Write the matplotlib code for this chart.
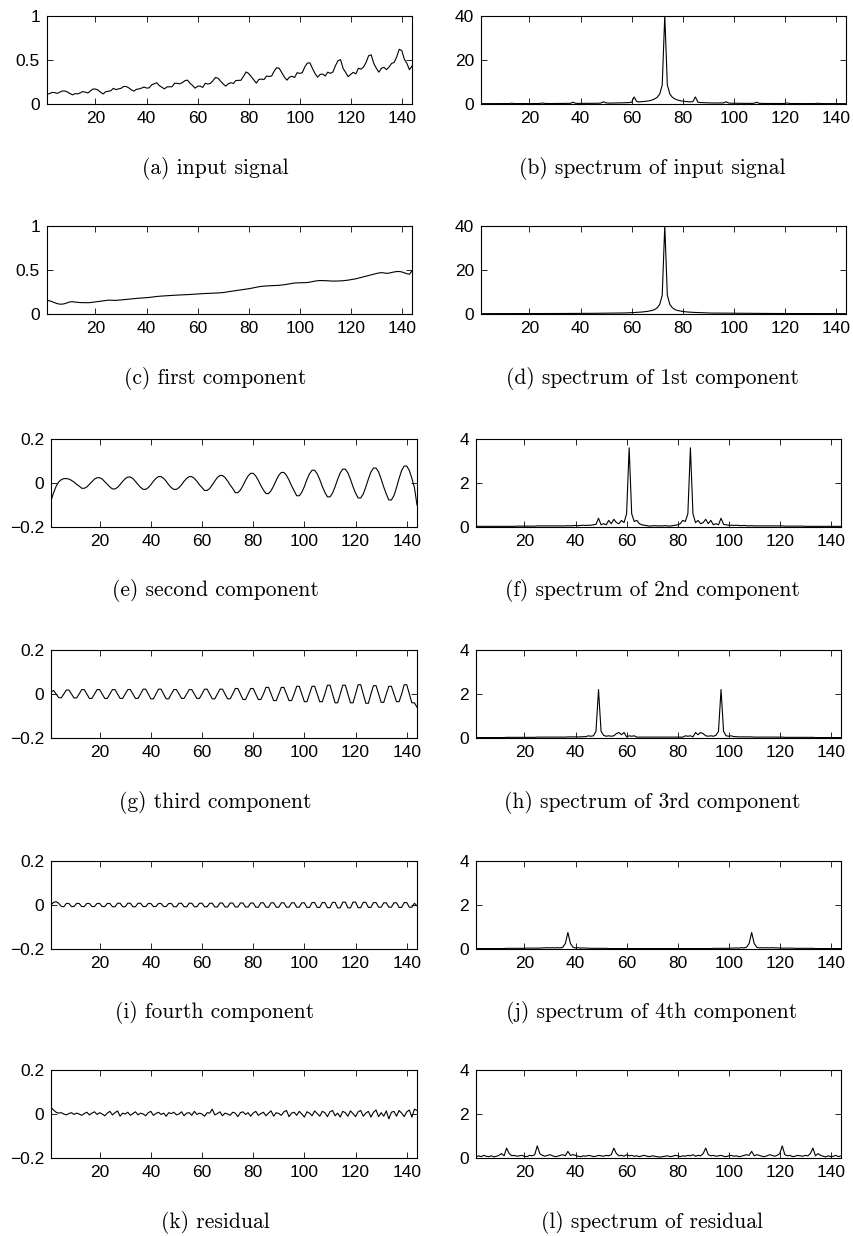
import matplotlib.pyplot as plt
import numpy as np

# figure size in pixels (dpi 100)
W, H = 854, 1236

steps = np.arange(1, 145)

# (a) input signal
input_signal = [
    0.112, 0.118, 0.132, 0.129, 0.121, 0.135, 0.148, 0.148, 0.136, 0.119, 0.104, 0.118,
    0.115, 0.126, 0.141, 0.135, 0.125, 0.149, 0.170, 0.170, 0.158, 0.133, 0.114, 0.140,
    0.145, 0.150, 0.178, 0.163, 0.172, 0.178, 0.199, 0.199, 0.184, 0.162, 0.146, 0.166,
    0.171, 0.180, 0.193, 0.181, 0.183, 0.218, 0.230, 0.242, 0.209, 0.191, 0.172, 0.194,
    0.196, 0.196, 0.236, 0.235, 0.229, 0.243, 0.264, 0.272, 0.237, 0.211, 0.180, 0.201,
    0.204, 0.188, 0.235, 0.227, 0.234, 0.264, 0.302, 0.293, 0.259, 0.229, 0.203, 0.229,
    0.242, 0.233, 0.267, 0.269, 0.270, 0.315, 0.364, 0.347, 0.312, 0.274, 0.237, 0.278,
    0.284, 0.277, 0.317, 0.313, 0.318, 0.374, 0.413, 0.405, 0.355, 0.306, 0.271, 0.306,
    0.315, 0.301, 0.356, 0.348, 0.355, 0.422, 0.465, 0.467, 0.404, 0.347, 0.305, 0.336,
    0.340, 0.318, 0.362, 0.348, 0.363, 0.435, 0.491, 0.505, 0.404, 0.359, 0.310, 0.337,
    0.360, 0.342, 0.406, 0.396, 0.420, 0.472, 0.548, 0.559, 0.463, 0.407, 0.362, 0.405,
    0.417, 0.391, 0.419, 0.461, 0.472, 0.535, 0.622, 0.606, 0.508, 0.461, 0.390, 0.432,
]

# (b) spectrum of input signal
spec_input = [
    0.17, 0.17, 0.17, 0.17, 0.17, 0.17, 0.17, 0.18, 0.18, 0.18, 0.18, 0.20,
    0.35, 0.20, 0.18, 0.18, 0.19, 0.19, 0.19, 0.19, 0.19, 0.20, 0.20, 0.22,
    0.45, 0.25, 0.22, 0.21, 0.22, 0.22, 0.22, 0.23, 0.23, 0.24, 0.25, 0.30,
    0.80, 0.35, 0.27, 0.27, 0.28, 0.28, 0.30, 0.30, 0.32, 0.33, 0.35, 0.45,
    1.00, 0.50, 0.40, 0.42, 0.45, 0.45, 0.50, 0.50, 0.55, 0.60, 0.65, 0.80,
    3.20, 1.10, 0.95, 1.05, 1.15, 1.30, 1.50, 1.80, 2.30, 3.00, 4.50, 8.60,
    40.36, 8.60, 4.50, 3.00, 2.30, 1.80, 1.50, 1.30, 1.15, 1.05, 0.95, 1.10,
    3.20, 0.80, 0.65, 0.60, 0.55, 0.50, 0.50, 0.45, 0.45, 0.42, 0.40, 0.50,
    1.00, 0.45, 0.35, 0.33, 0.32, 0.30, 0.30, 0.28, 0.28, 0.27, 0.27, 0.35,
    0.80, 0.30, 0.25, 0.24, 0.23, 0.23, 0.22, 0.22, 0.22, 0.21, 0.22, 0.25,
    0.45, 0.22, 0.20, 0.20, 0.19, 0.19, 0.19, 0.19, 0.19, 0.18, 0.18, 0.20,
    0.35, 0.20, 0.18, 0.18, 0.18, 0.18, 0.17, 0.17, 0.17, 0.17, 0.17, 0.17,
]

# (c) first component
comp1 = [
    0.155, 0.150, 0.140, 0.128, 0.118, 0.112, 0.112, 0.118, 0.128, 0.138, 0.140, 0.135,
    0.132, 0.130, 0.129, 0.128, 0.128, 0.130, 0.134, 0.138, 0.142, 0.146, 0.150, 0.154,
    0.157, 0.157, 0.155, 0.155, 0.157, 0.160, 0.163, 0.166, 0.169, 0.172, 0.175, 0.177,
    0.179, 0.181, 0.183, 0.185, 0.188, 0.192, 0.196, 0.199, 0.202, 0.204, 0.206, 0.208,
    0.210, 0.212, 0.213, 0.215, 0.216, 0.218, 0.219, 0.220, 0.222, 0.224, 0.226, 0.228,
    0.230, 0.232, 0.233, 0.234, 0.235, 0.236, 0.237, 0.239, 0.241, 0.244, 0.248, 0.252,
    0.257, 0.262, 0.266, 0.270, 0.274, 0.278, 0.282, 0.287, 0.292, 0.298, 0.304, 0.310,
    0.314, 0.317, 0.319, 0.321, 0.322, 0.323, 0.324, 0.326, 0.329, 0.333, 0.338, 0.344,
    0.349, 0.352, 0.354, 0.355, 0.355, 0.356, 0.358, 0.362, 0.368, 0.374, 0.378, 0.380,
    0.380, 0.379, 0.377, 0.375, 0.374, 0.374, 0.375, 0.376, 0.378, 0.381, 0.385, 0.390,
    0.395, 0.400, 0.407, 0.415, 0.423, 0.430, 0.437, 0.445, 0.452, 0.460, 0.466, 0.470,
    0.467, 0.462, 0.465, 0.472, 0.478, 0.482, 0.483, 0.478, 0.468, 0.458, 0.452, 0.490,
]

# (d) spectrum of 1st component
spec_comp1 = [
    0.17, 0.17, 0.17, 0.17, 0.17, 0.17, 0.17, 0.17, 0.18, 0.18, 0.18, 0.18,
    0.18, 0.18, 0.18, 0.19, 0.19, 0.19, 0.19, 0.19, 0.20, 0.20, 0.20, 0.20,
    0.20, 0.21, 0.21, 0.22, 0.22, 0.23, 0.23, 0.23, 0.24, 0.24, 0.25, 0.25,
    0.24, 0.26, 0.27, 0.27, 0.28, 0.28, 0.29, 0.30, 0.31, 0.32, 0.33, 0.34,
    0.35, 0.36, 0.37, 0.38, 0.40, 0.42, 0.43, 0.45, 0.47, 0.50, 0.55, 0.60,
    0.70, 0.75, 0.80, 0.90, 1.00, 1.15, 1.35, 1.60, 2.00, 2.80, 4.30, 8.50,
    40.20, 8.50, 4.30, 2.80, 2.00, 1.60, 1.35, 1.15, 1.00, 0.90, 0.80, 0.75,
    0.70, 0.60, 0.55, 0.50, 0.47, 0.45, 0.43, 0.42, 0.40, 0.38, 0.37, 0.36,
    0.35, 0.34, 0.33, 0.32, 0.31, 0.30, 0.29, 0.28, 0.28, 0.27, 0.27, 0.26,
    0.24, 0.25, 0.25, 0.24, 0.24, 0.23, 0.23, 0.23, 0.22, 0.22, 0.21, 0.21,
    0.20, 0.20, 0.20, 0.20, 0.20, 0.19, 0.19, 0.19, 0.19, 0.19, 0.18, 0.18,
    0.18, 0.18, 0.18, 0.18, 0.18, 0.17, 0.17, 0.17, 0.17, 0.17, 0.17, 0.17,
]

# (e) second component
comp2 = [
    -0.080, -0.045, -0.015, 0.005, 0.015, 0.020, 0.020, 0.018, 0.012, 0.004, -0.006, -0.014,
    -0.024, -0.024, -0.018, -0.006, 0.006, 0.018, 0.024, 0.024, 0.018, 0.006, -0.006, -0.018,
    -0.027, -0.027, -0.020, -0.007, 0.007, 0.020, 0.027, 0.027, 0.020, 0.007, -0.007, -0.020,
    -0.029, -0.029, -0.021, -0.008, 0.008, 0.021, 0.029, 0.029, 0.021, 0.008, -0.008, -0.021,
    -0.029, -0.029, -0.021, -0.008, 0.008, 0.021, 0.029, 0.029, 0.021, 0.008, -0.008, -0.021,
    -0.034, -0.034, -0.025, -0.009, 0.009, 0.025, 0.034, 0.034, 0.025, 0.009, -0.009, -0.025,
    -0.044, -0.044, -0.032, -0.012, 0.012, 0.032, 0.044, 0.044, 0.032, 0.012, -0.012, -0.032,
    -0.048, -0.048, -0.035, -0.013, 0.013, 0.035, 0.048, 0.048, 0.035, 0.013, -0.013, -0.035,
    -0.058, -0.058, -0.042, -0.016, 0.016, 0.042, 0.058, 0.058, 0.042, 0.016, -0.016, -0.042,
    -0.063, -0.063, -0.046, -0.017, 0.017, 0.046, 0.063, 0.063, 0.046, 0.017, -0.017, -0.046,
    -0.068, -0.068, -0.050, -0.018, 0.018, 0.050, 0.068, 0.068, 0.050, 0.018, -0.018, -0.050,
    -0.077, -0.077, -0.057, -0.021, 0.021, 0.057, 0.077, 0.077, 0.057, 0.021, -0.021, -0.100,
]

# (f) spectrum of 2nd component
spec_comp2 = [
    0.03, 0.03, 0.03, 0.03, 0.03, 0.03, 0.03, 0.03, 0.03, 0.03, 0.03, 0.03,
    0.03, 0.03, 0.03, 0.03, 0.04, 0.04, 0.04, 0.04, 0.04, 0.04, 0.04, 0.04,
    0.05, 0.05, 0.05, 0.05, 0.05, 0.05, 0.05, 0.05, 0.05, 0.05, 0.05, 0.05,
    0.06, 0.05, 0.06, 0.07, 0.06, 0.07, 0.08, 0.07, 0.08, 0.08, 0.10, 0.12,
    0.40, 0.10, 0.15, 0.10, 0.30, 0.15, 0.35, 0.20, 0.15, 0.30, 0.20, 0.60,
    3.60, 0.60, 0.25, 0.30, 0.15, 0.10, 0.08, 0.06, 0.04, 0.05, 0.06, 0.05,
    0.05, 0.05, 0.06, 0.05, 0.04, 0.06, 0.08, 0.10, 0.15, 0.30, 0.25, 0.60,
    3.60, 0.60, 0.20, 0.30, 0.15, 0.20, 0.35, 0.15, 0.30, 0.10, 0.15, 0.10,
    0.40, 0.12, 0.10, 0.08, 0.08, 0.07, 0.08, 0.07, 0.06, 0.07, 0.06, 0.05,
    0.06, 0.05, 0.05, 0.05, 0.05, 0.05, 0.05, 0.05, 0.05, 0.05, 0.05, 0.05,
    0.05, 0.04, 0.04, 0.04, 0.04, 0.04, 0.04, 0.04, 0.04, 0.03, 0.03, 0.03,
    0.03, 0.03, 0.03, 0.03, 0.03, 0.03, 0.03, 0.03, 0.03, 0.03, 0.03, 0.03,
]

# (g) third component
comp3 = [
    0.010, 0.016, 0.000, -0.016, -0.018, 0.000, 0.018, 0.018, 0.000, -0.018, -0.018, 0.000,
    0.020, 0.020, 0.000, -0.020, -0.020, 0.000, 0.020, 0.020, 0.000, -0.020, -0.020, 0.000,
    0.020, 0.020, 0.000, -0.020, -0.020, 0.000, 0.020, 0.020, 0.000, -0.020, -0.020, 0.000,
    0.022, 0.022, 0.000, -0.022, -0.022, 0.000, 0.022, 0.022, 0.000, -0.022, -0.022, 0.000,
    0.020, 0.020, 0.000, -0.020, -0.020, 0.000, 0.020, 0.020, 0.000, -0.020, -0.020, 0.000,
    0.022, 0.022, 0.000, -0.022, -0.022, 0.000, 0.022, 0.022, 0.000, -0.022, -0.022, 0.000,
    0.025, 0.025, 0.000, -0.025, -0.025, 0.000, 0.025, 0.025, 0.000, -0.025, -0.025, 0.000,
    0.030, 0.030, 0.000, -0.030, -0.030, 0.000, 0.030, 0.030, 0.000, -0.030, -0.030, 0.000,
    0.035, 0.035, 0.000, -0.035, -0.035, 0.000, 0.035, 0.035, 0.000, -0.035, -0.035, 0.000,
    0.040, 0.040, 0.000, -0.040, -0.040, 0.000, 0.040, 0.040, 0.000, -0.040, -0.040, 0.000,
    0.042, 0.042, 0.000, -0.042, -0.042, 0.000, 0.038, 0.038, 0.000, -0.038, -0.038, 0.000,
    0.035, 0.035, 0.000, -0.035, -0.035, 0.000, 0.042, 0.042, 0.000, -0.040, -0.040, -0.060,
]

# (h) spectrum of 3rd component
spec_comp3 = [
    0.02, 0.02, 0.02, 0.02, 0.02, 0.02, 0.02, 0.02, 0.02, 0.02, 0.02, 0.02,
    0.03, 0.03, 0.03, 0.03, 0.03, 0.03, 0.03, 0.03, 0.03, 0.03, 0.03, 0.03,
    0.04, 0.04, 0.04, 0.04, 0.04, 0.04, 0.04, 0.04, 0.04, 0.04, 0.04, 0.04,
    0.05, 0.05, 0.05, 0.05, 0.05, 0.05, 0.06, 0.06, 0.10, 0.08, 0.10, 0.30,
    2.20, 0.30, 0.12, 0.08, 0.10, 0.08, 0.10, 0.20, 0.25, 0.15, 0.25, 0.05,
    0.10, 0.08, 0.10, 0.04, 0.04, 0.04, 0.04, 0.04, 0.04, 0.04, 0.04, 0.04,
    0.04, 0.04, 0.04, 0.04, 0.04, 0.04, 0.04, 0.04, 0.04, 0.04, 0.10, 0.08,
    0.10, 0.05, 0.25, 0.15, 0.25, 0.20, 0.10, 0.08, 0.10, 0.08, 0.12, 0.30,
    2.20, 0.30, 0.10, 0.08, 0.10, 0.06, 0.06, 0.05, 0.05, 0.05, 0.05, 0.05,
    0.05, 0.04, 0.04, 0.04, 0.04, 0.04, 0.04, 0.04, 0.04, 0.04, 0.04, 0.04,
    0.04, 0.03, 0.03, 0.03, 0.03, 0.03, 0.03, 0.03, 0.03, 0.03, 0.03, 0.03,
    0.03, 0.02, 0.02, 0.02, 0.02, 0.02, 0.02, 0.02, 0.02, 0.02, 0.02, 0.02,
]

# (i) fourth component
comp4 = [
    0.000, 0.012, 0.015, 0.008, -0.006, -0.008, 0.007, 0.007, -0.007, -0.007, 0.007, 0.007,
    -0.007, -0.007, 0.007, 0.007, -0.007, -0.007, 0.007, 0.007, -0.007, -0.007, 0.007, 0.007,
    -0.008, -0.008, 0.008, 0.008, -0.008, -0.008, 0.008, 0.008, -0.008, -0.008, 0.008, 0.008,
    -0.007, -0.007, 0.007, 0.007, -0.007, -0.007, 0.007, 0.007, -0.007, -0.007, 0.007, 0.007,
    -0.008, -0.008, 0.008, 0.008, -0.008, -0.008, 0.008, 0.008, -0.008, -0.008, 0.008, 0.008,
    -0.008, -0.008, 0.008, 0.008, -0.009, -0.009, 0.009, 0.009, -0.009, -0.009, 0.009, 0.009,
    -0.009, -0.009, 0.009, 0.009, -0.009, -0.009, 0.009, 0.009, -0.010, -0.010, 0.010, 0.010,
    -0.010, -0.010, 0.010, 0.010, -0.010, -0.010, 0.010, 0.010, -0.010, -0.010, 0.010, 0.010,
    -0.010, -0.010, 0.010, 0.010, -0.011, -0.011, 0.011, 0.011, -0.011, -0.011, 0.011, 0.011,
    -0.012, -0.012, 0.012, 0.012, -0.013, -0.013, 0.013, 0.013, -0.013, -0.013, 0.013, 0.013,
    -0.012, -0.012, 0.012, 0.012, -0.011, -0.011, 0.011, 0.011, -0.010, -0.010, 0.010, 0.010,
    -0.010, -0.010, 0.010, 0.010, -0.011, -0.011, 0.011, 0.011, -0.010, -0.010, 0.008, -0.004,
]

# (j) spectrum of 4th component
spec_comp4 = [
    0.02, 0.02, 0.02, 0.02, 0.02, 0.02, 0.02, 0.02, 0.02, 0.02, 0.02, 0.02,
    0.03, 0.03, 0.03, 0.03, 0.03, 0.03, 0.03, 0.03, 0.04, 0.04, 0.04, 0.04,
    0.04, 0.04, 0.05, 0.05, 0.06, 0.05, 0.06, 0.05, 0.06, 0.05, 0.08, 0.25,
    0.75, 0.25, 0.08, 0.05, 0.06, 0.04, 0.05, 0.04, 0.04, 0.03, 0.03, 0.03,
    0.03, 0.03, 0.03, 0.03, 0.02, 0.02, 0.02, 0.02, 0.02, 0.02, 0.02, 0.02,
    0.02, 0.02, 0.02, 0.02, 0.02, 0.02, 0.02, 0.02, 0.02, 0.02, 0.02, 0.02,
    0.02, 0.02, 0.02, 0.02, 0.02, 0.02, 0.02, 0.02, 0.02, 0.02, 0.02, 0.02,
    0.02, 0.02, 0.02, 0.02, 0.02, 0.02, 0.02, 0.02, 0.02, 0.03, 0.03, 0.03,
    0.03, 0.03, 0.03, 0.03, 0.04, 0.04, 0.05, 0.04, 0.06, 0.05, 0.08, 0.25,
    0.75, 0.25, 0.08, 0.05, 0.06, 0.05, 0.06, 0.05, 0.06, 0.05, 0.05, 0.04,
    0.04, 0.04, 0.04, 0.04, 0.04, 0.03, 0.03, 0.03, 0.03, 0.03, 0.03, 0.03,
    0.03, 0.02, 0.02, 0.02, 0.02, 0.02, 0.02, 0.02, 0.02, 0.02, 0.02, 0.02,
]

# (k) residual
residual = [
    0.030, 0.018, 0.008, 0.004, 0.006, 0.000, -0.004, 0.002, 0.006, -0.002, 0.004, 0.000,
    -0.006, 0.002, 0.008, -0.004, 0.004, 0.010, -0.002, 0.006, 0.000, -0.008, 0.004, 0.012,
    -0.004, 0.006, 0.014, -0.010, 0.004, 0.000, 0.008, -0.006, 0.002, 0.010, -0.004, 0.004,
    0.000, -0.008, 0.006, 0.012, -0.006, 0.002, 0.008, -0.002, 0.004, -0.010, 0.006, 0.002,
    0.008, -0.004, 0.000, 0.010, -0.008, 0.004, 0.006, -0.006, 0.012, -0.002, 0.004, 0.000,
    -0.010, 0.006, 0.004, 0.022, -0.004, 0.002, 0.010, -0.008, 0.004, 0.000, -0.006, 0.008,
    0.004, -0.012, 0.006, 0.010, -0.002, 0.006, -0.010, 0.004, 0.012, -0.006, 0.002, 0.008,
    -0.008, 0.004, 0.014, -0.010, 0.006, 0.002, -0.006, 0.010, 0.016, -0.012, 0.004, 0.008,
    -0.006, 0.012, 0.000, -0.014, 0.010, 0.004, -0.008, 0.014, 0.002, -0.010, 0.012, 0.006,
    -0.012, 0.010, 0.016, -0.008, 0.004, -0.014, 0.012, 0.006, -0.010, 0.014, 0.002, -0.012,
    0.010, 0.016, -0.010, 0.004, 0.012, -0.014, 0.008, 0.018, -0.012, 0.006, -0.010, 0.014,
    -0.022, 0.008, 0.012, -0.010, 0.016, 0.004, -0.012, 0.010, 0.018, -0.014, 0.022, 0.016,
]

# (l) spectrum of residual
spec_residual = [
    0.05, 0.10, 0.06, 0.12, 0.08, 0.06, 0.10, 0.05, 0.08, 0.12, 0.20, 0.10,
    0.45, 0.20, 0.10, 0.12, 0.08, 0.10, 0.12, 0.08, 0.06, 0.12, 0.10, 0.15,
    0.55, 0.20, 0.12, 0.08, 0.12, 0.15, 0.10, 0.06, 0.08, 0.12, 0.15, 0.10,
    0.30, 0.12, 0.15, 0.12, 0.08, 0.06, 0.10, 0.08, 0.12, 0.10, 0.06, 0.08,
    0.12, 0.10, 0.08, 0.12, 0.10, 0.15, 0.45, 0.20, 0.10, 0.12, 0.08, 0.15,
    0.10, 0.12, 0.08, 0.10, 0.06, 0.10, 0.12, 0.08, 0.06, 0.10, 0.08, 0.06,
    0.04, 0.06, 0.08, 0.10, 0.06, 0.08, 0.12, 0.10, 0.06, 0.10, 0.08, 0.12,
    0.10, 0.15, 0.08, 0.12, 0.10, 0.20, 0.45, 0.15, 0.10, 0.12, 0.08, 0.10,
    0.12, 0.08, 0.06, 0.10, 0.12, 0.08, 0.10, 0.06, 0.08, 0.12, 0.15, 0.12,
    0.30, 0.10, 0.15, 0.12, 0.08, 0.06, 0.10, 0.15, 0.12, 0.08, 0.12, 0.20,
    0.55, 0.15, 0.10, 0.12, 0.06, 0.08, 0.12, 0.10, 0.08, 0.12, 0.10, 0.20,
    0.45, 0.10, 0.20, 0.12, 0.08, 0.05, 0.10, 0.06, 0.08, 0.12, 0.06, 0.10,
]

captions = [
    ('(a) input signal', '(b) spectrum of input signal'),
    ('(c) first component', '(d) spectrum of 1st component'),
    ('(e) second component', '(f) spectrum of 2nd component'),
    ('(g) third component', '(h) spectrum of 3rd component'),
    ('(i) fourth component', '(j) spectrum of 4th component'),
    ('(k) residual', '(l) spectrum of residual'),
]

signals = [input_signal, comp1, comp2, comp3, comp4, residual]
spectra = [spec_input, spec_comp1, spec_comp2, spec_comp3, spec_comp4, spec_residual]

# axes bottoms in pixels from top of the figure
row_bottoms = [104, 314, 527, 738, 949, 1158]
AX_H = 88

plt.rcParams['font.family'] = ['Liberation Sans', 'DejaVu Sans']
plt.rcParams['axes.linewidth'] = 0.8

fig = plt.figure(figsize=(W / 100, H / 100), dpi=100)


def make_axes(left, right, bottom):
    ax = fig.add_axes([left / W, 1 - bottom / H, (right - left) / W, AX_H / H])
    ax.tick_params(direction='in', top=True, right=True, length=4, width=0.6,
                   labelsize=12.5, pad=5)
    ax.set_xlim(1, 144)
    ax.set_xticks([20, 40, 60, 80, 100, 120, 140])
    return ax


for row in range(6):
    bottom = row_bottoms[row]

    # time signal (left column)
    if row < 2:
        ax = make_axes(47, 412, bottom)
        ax.set_ylim(0, 1)
        ax.set_yticks([0, 0.5, 1])
        ax.set_yticklabels(['0', '0.5', '1'])
    else:
        ax = make_axes(51, 417, bottom)
        ax.set_ylim(-0.2, 0.2)
        ax.set_yticks([-0.2, 0, 0.2])
        ax.set_yticklabels(['\u22120.2', '0', '0.2'])
    ax.plot(steps, signals[row], color='black', linewidth=0.8)

    # spectrum (right column)
    if row < 2:
        ax = make_axes(481, 846, bottom)
        ax.set_ylim(0, 40)
        ax.set_yticks([0, 20, 40])
    else:
        ax = make_axes(476, 841, bottom)
        ax.set_ylim(0, 4)
        ax.set_yticks([0, 2, 4])
    ax.plot(steps, spectra[row], color='black', linewidth=0.8)

    # captions below each panel
    cap_y = 1 - (bottom + 64) / H
    fig.text(215 / W, cap_y, captions[row][0], ha='center', va='center',
             family='cmr10', fontsize=15.5)
    fig.text(652 / W, cap_y, captions[row][1], ha='center', va='center',
             family='cmr10', fontsize=15.5)

fig.savefig('out.png', dpi=100)
